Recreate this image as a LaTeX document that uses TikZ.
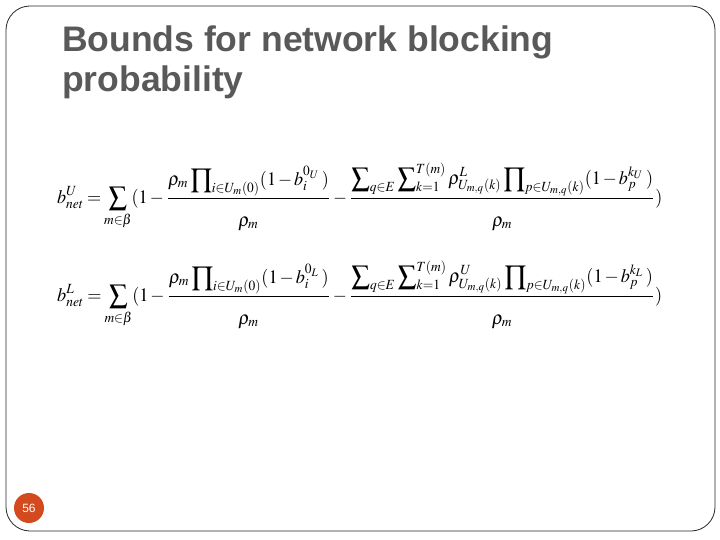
\documentclass[tikz,border=0pt]{standalone}
\usepackage{amsmath}
\usepackage{mathptmx}
\usepackage{fontspec}
\setmainfont{Liberation Sans}
\definecolor{titlegray}{HTML}{595959}
\definecolor{badge}{HTML}{D24A1E}
\medmuskip=2mu plus 1mu minus 2mu
\thickmuskip=3mu plus 2mu
\newcommand{\dnm}{\rule{0pt}{13pt}\rho_m}
\begin{document}
\begin{tikzpicture}[x=1pt,y=-1pt,
  titletext/.style={anchor=base west,inner sep=0pt,font=\fontsize{35.5}{40}\selectfont\bfseries,text=titlegray},
  formula/.style={anchor=west,inner sep=0pt}]
\useasboundingbox (0,0) rectangle (720,540);
\fill[white] (0,0) rectangle (720,540);
\draw[line width=0.8pt,black!85,rounded corners=24pt] (6,6) rectangle (715,531);
\node[titletext] (t1) at (62,52) {Bounds for network blocking};
\node[titletext] (t2) at (62,92) {probability};
\node[circle,fill=badge,minimum size=30pt,inner sep=0pt,text=white,font=\fontsize{12}{14}\selectfont] (pg) at (29,508) {56};
\node[formula] (f1) at (57,196.5) {\resizebox*{605pt}{68pt}{$\displaystyle b^{U}_{net}=\sum_{m\in\beta}(1-\frac{\displaystyle\rho_m\prod\nolimits_{i\in U_m(0)}(1-b_i^{0_U}\,)}{\displaystyle\dnm}-\frac{\displaystyle\sum\nolimits_{q\in E}\sum\nolimits_{k=1}^{T(m)}\rho^{L}_{U_{m,q}(k)}\prod\nolimits_{p\in U_{m,q}(k)}(1-b_p^{k_U}\,)}{\displaystyle\dnm})$}};
\node[formula] (f2) at (57,294.5) {\resizebox*{605pt}{68pt}{$\displaystyle b^{L}_{net}=\sum_{m\in\beta}(1-\frac{\displaystyle\rho_m\prod\nolimits_{i\in U_m(0)}(1-b_i^{0_L}\,)}{\displaystyle\dnm}-\frac{\displaystyle\sum\nolimits_{q\in E}\sum\nolimits_{k=1}^{T(m)}\rho^{U}_{U_{m,q}(k)}\prod\nolimits_{p\in U_{m,q}(k)}(1-b_p^{k_L}\,)}{\displaystyle\dnm})$}};
\end{tikzpicture}
\end{document}
